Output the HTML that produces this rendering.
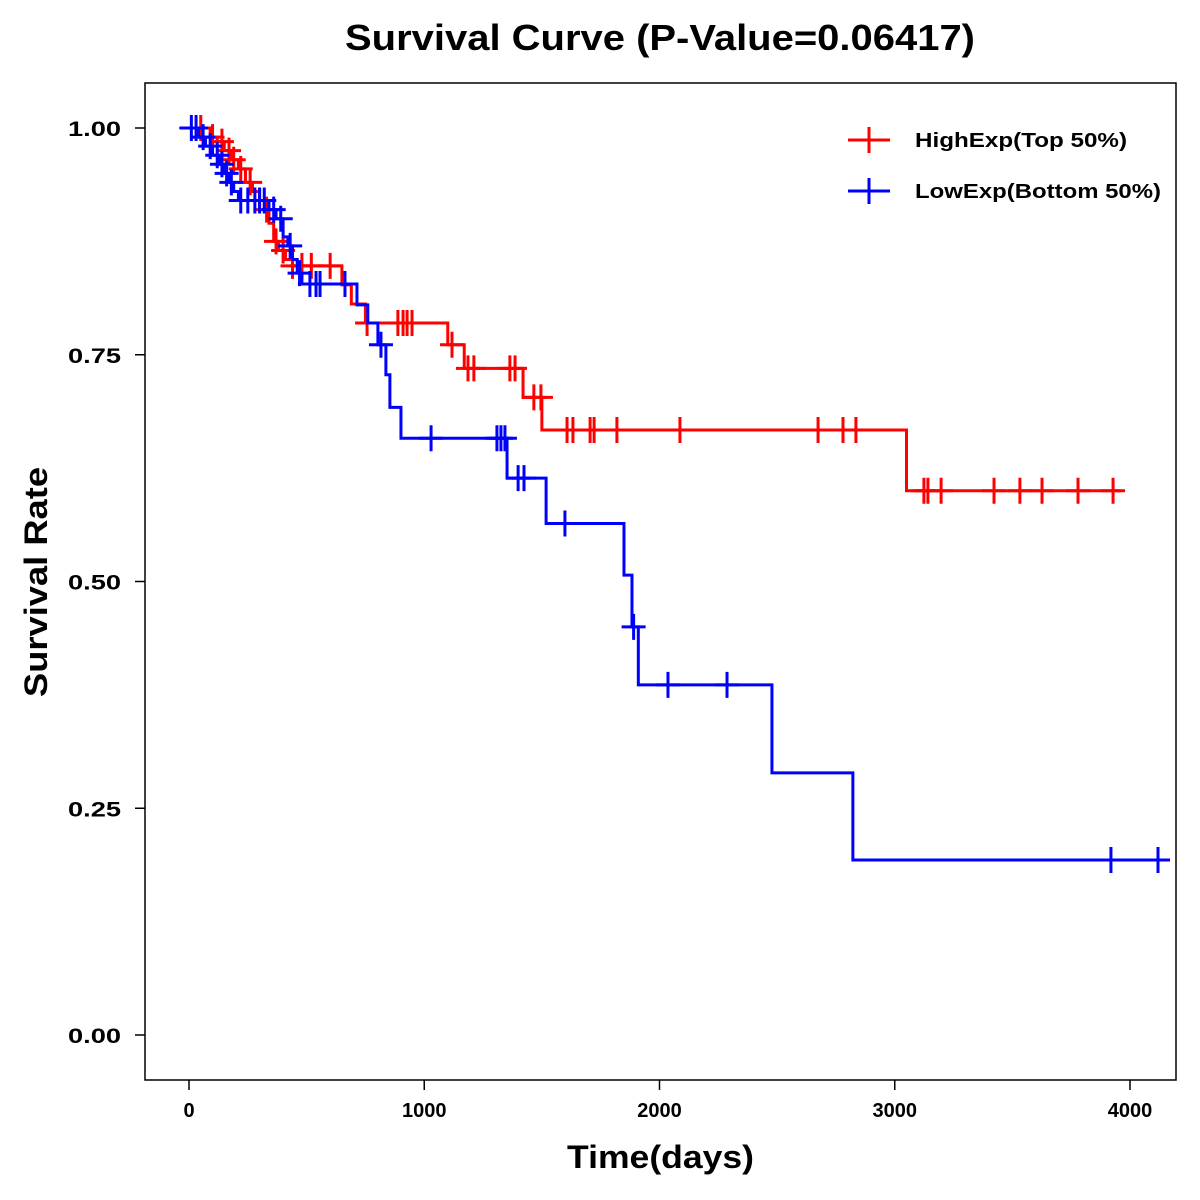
<!DOCTYPE html>
<html><head><meta charset="utf-8"><style>
body{margin:0;background:#fff;}
svg{display:block;font-family:"Liberation Sans",Arial,sans-serif;}
</style></head><body>
<svg id="chart" width="1200" height="1200">
<text x="345" y="50" font-size="36" font-weight="bold" textLength="630" lengthAdjust="spacingAndGlyphs">Survival Curve (P-Value=0.06417)</text>
<rect x="145" y="83" width="1031" height="997" fill="none" stroke="#000" stroke-width="1.5"/>
<g id="axes"></g>
<g id="series"></g>
<text x="567" y="1168" font-size="32" font-weight="bold" textLength="187" lengthAdjust="spacingAndGlyphs">Time(days)</text>
<text transform="translate(47,697) rotate(-90)" font-size="32" font-weight="bold" textLength="230" lengthAdjust="spacingAndGlyphs">Survival Rate</text>
<g>
<g>
<line x1="848" y1="140" x2="890" y2="140" stroke="#f00" stroke-width="3"/><line x1="869" y1="127" x2="869" y2="153" stroke="#f00" stroke-width="3"/>
<text x="915" y="147" font-size="20" font-weight="bold" textLength="212" lengthAdjust="spacingAndGlyphs">HighExp(Top 50%)</text></g>
<g>
<line x1="848" y1="191" x2="890" y2="191" stroke="#00f" stroke-width="3"/><line x1="869" y1="178" x2="869" y2="204" stroke="#00f" stroke-width="3"/>
<text x="915" y="198" font-size="20" font-weight="bold" textLength="246" lengthAdjust="spacingAndGlyphs">LowExp(Bottom 50%)</text></g>
</g>
</svg>
<script>
const xTicks=[0,1000,2000,3000,4000];
const yTicks=[0,0.25,0.5,0.75,1];
const yTickLabels=["0.00","0.25","0.50","0.75","1.00"];
const highTimes=[0,90,120,150,180,210,240,270,300,320,340,360,380,410,440,650,690,750,1100,1170,1420,1500,3050];
const highSurv=[1,0.99,0.985,0.975,0.965,0.955,0.94,0.93,0.92,0.91,0.895,0.875,0.865,0.855,0.848,0.827,0.806,0.785,0.761,0.735,0.703,0.667,0.6];
const highEnd=3960;
const highCensor=[50,100,140,170,190,220,260,300,330,370,400,440,480,520,600,757,888,910,927,948,1118,1186,1211,1364,1386,1466,1496,1607,1632,1705,1722,1819,2087,2674,2780,2835,3124,3141,3197,3422,3532,3626,3779,3928];
const lowTimes=[0,40,70,100,130,150,170,190,210,340,370,400,420,440,460,480,714,760,803,837,854,901,1352,1518,1849,1883,1910,2478,2822];
const lowSurv=[1,0.99,0.98,0.97,0.96,0.95,0.94,0.93,0.92,0.91,0.9,0.88,0.87,0.855,0.84,0.828,0.805,0.785,0.761,0.728,0.692,0.658,0.614,0.564,0.507,0.45,0.386,0.289,0.193];
const lowEnd=4120;
const lowCensor=[10,30,60,90,120,140,160,180,220,250,280,300,320,360,390,430,470,514,540,557,663,816,1029,1309,1326,1343,1399,1424,1598,1890,2036,2287,3919,4119];
const X=t=>189+t*0.23525;
const Y=s=>1035-s*907;
const NS="http://www.w3.org/2000/svg";
function mk(tag,attrs,parent){const e=document.createElementNS(NS,tag);for(const k in attrs)e.setAttribute(k,attrs[k]);parent.appendChild(e);return e;}
const axes=document.getElementById('axes');
xTicks.forEach(t=>{
  const l=mk('line',{x1:X(t),x2:X(t),y1:1080,y2:1090,stroke:'#000','stroke-width':1.5},axes);
  
  
  const tx=mk('text',{x:X(t),y:1117,'text-anchor':'middle','font-size':20,'font-weight':'bold'},axes);
  tx.textContent=t;
  
  
});
yTicks.forEach((v,i)=>{
  const l=mk('line',{x1:135,x2:145,y1:Y(v),y2:Y(v),stroke:'#000','stroke-width':1.5},axes);
  
  
  const tx=mk('text',{x:68,y:Y(v)+8,'font-size':21,'font-weight':'bold',textLength:53,lengthAdjust:'spacingAndGlyphs'},axes);
  tx.textContent=yTickLabels[i];
  
  
});
function survAt(times,surv,t){let s=surv[0];for(let i=0;i<times.length;i++){if(times[i]<=t)s=surv[i];}return s;}
function draw(times,surv,end,censor,color,name){
  const g=document.getElementById('series');
  let d='M'+X(times[0])+','+Y(surv[0]);
  for(let i=1;i<times.length;i++){d+=' H'+X(times[i])+' V'+Y(surv[i]);}
  d+=' H'+X(end);
  const p=mk('path',{d:d,fill:'none',stroke:color,'stroke-width':3},g);
  
  
  censor.forEach(t=>{
    const s=survAt(times,surv,t);
    const cx=X(t),cy=Y(s);
    const c=mk('path',{d:`M${cx-12},${cy} H${cx+12} M${cx},${cy-13} V${cy+13}`,stroke:color,'stroke-width':3,fill:'none'},g);
    
    
  });
}
draw(highTimes,highSurv,highEnd,highCensor,'#f00','high-exp');
draw(lowTimes,lowSurv,lowEnd,lowCensor,'#00f','low-exp');
</script>
</body></html>
